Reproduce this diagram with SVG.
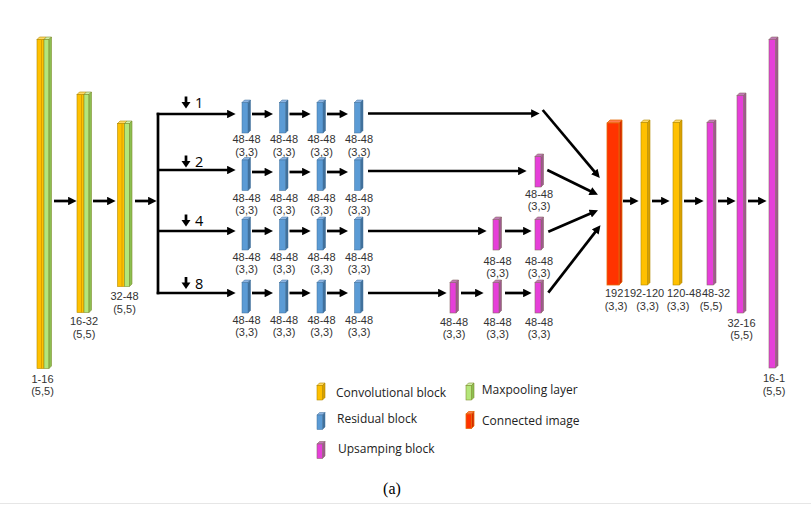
<svg xmlns="http://www.w3.org/2000/svg" width="811" height="505" viewBox="0 0 811 505">
<defs>
<marker id="ah" viewBox="0 0 10 10" refX="1" refY="5" markerWidth="9" markerHeight="8.5" markerUnits="userSpaceOnUse" orient="auto"><path d="M0,0 L10,5 L0,10 z" fill="#000"/></marker>
<style>
.ln{stroke:#000;stroke-width:2.7;fill:none}
.ar{stroke:#000;stroke-width:2.7;fill:none;marker-end:url(#ah)}
.lb{font-family:"Liberation Sans",Arial,sans-serif;font-size:11px;fill:#333;text-anchor:middle}
.lr{font-family:"Liberation Sans",Arial,sans-serif;font-size:11px;fill:#333}
.lg{font-family:"Open Sans","Noto Sans",sans-serif;font-size:12px;fill:#222}
.nm{font-family:"Open Sans","Noto Sans",sans-serif;font-size:14.5px;fill:#000}
.cap{font-family:"Liberation Serif",serif;font-size:16px;fill:#000;text-anchor:middle}
.bf{fill:#5B9BD5;stroke:#41719C;stroke-width:0.5}
.bs{fill:#41719C;stroke:#41719C;stroke-width:0.5}
.bt{fill:#8DB4E2;stroke:#41719C;stroke-width:0.5}
.pf{fill:#E63FD9;stroke:#8B6A6A;stroke-width:0.6}
.ps{fill:#9E5A8E;stroke:#8B6A6A;stroke-width:0.6}
.pt{fill:#C07AB6;stroke:#8B6A6A;stroke-width:0.6}
.yf{fill:#FFC000;stroke:#B38A00;stroke-width:0.6}
.ys{fill:#D9A000;stroke:#B38A00;stroke-width:0.6}
.yt{fill:#FFD966;stroke:#B38A00;stroke-width:0.6}
.gf{fill:#B4E67A;stroke:#7F8F30;stroke-width:0.6}
.gs{fill:#8CBF50;stroke:#7F8F30;stroke-width:0.6}
.gt{fill:#D0F0A8;stroke:#7F8F30;stroke-width:0.6}
.rf{fill:#FF3300;stroke:#E46C0A;stroke-width:0.8}
.rs{fill:#D42A00;stroke:#E46C0A;stroke-width:0.8}
.rt{fill:#FF7A50;stroke:#E46C0A;stroke-width:0.8}
</style>
<g id="res">
<polygon class="bt" points="0,2.5 2.5,0 8.5,0 6,2.5"/>
<polygon class="bs" points="6,2.5 8.5,0 8.5,30.5 6,33"/>
<rect class="bf" x="0" y="2.5" width="6" height="30.5"/>
</g>
<g id="up">
<polygon class="pt" points="0,2.5 2.5,0 8.5,0 6,2.5"/>
<polygon class="ps" points="6,2.5 8.5,0 8.5,30.5 6,33"/>
<rect class="pf" x="0" y="2.5" width="6" height="30.5"/>
</g>
</defs>
<rect width="811" height="505" fill="#fff"/>

<g id="connectors">
<line class="ar" x1="54" y1="201" x2="69" y2="201"/>
<line class="ar" x1="93" y1="201" x2="108" y2="201"/>
<line class="ar" x1="135" y1="201" x2="149" y2="201"/>
<line class="ln" x1="158" y1="112.7" x2="158" y2="294.3"/>
<line class="ar" x1="156.7" y1="114" x2="228" y2="114"/>
<line class="ar" x1="158" y1="170" x2="228" y2="170"/>
<line class="ar" x1="158" y1="231" x2="228" y2="231"/>
<line class="ar" x1="156.7" y1="293" x2="228" y2="293"/>
<g id="res-arrows">
<line class="ar" x1="252" y1="114" x2="265.5" y2="114"/><line class="ar" x1="289.5" y1="114" x2="303" y2="114"/><line class="ar" x1="327" y1="114" x2="340.5" y2="114"/>
<line class="ar" x1="252" y1="172" x2="265.5" y2="172"/><line class="ar" x1="289.5" y1="172" x2="303" y2="172"/><line class="ar" x1="327" y1="172" x2="340.5" y2="172"/>
<line class="ar" x1="252" y1="231" x2="265.5" y2="231"/><line class="ar" x1="289.5" y1="231" x2="303" y2="231"/><line class="ar" x1="327" y1="231" x2="340.5" y2="231"/>
<line class="ar" x1="252" y1="293" x2="265.5" y2="293"/><line class="ar" x1="289.5" y1="293" x2="303" y2="293"/><line class="ar" x1="327" y1="293" x2="340.5" y2="293"/>
</g>
<line class="ar" x1="368" y1="113.5" x2="532" y2="113.5"/>
<line class="ar" x1="368" y1="171" x2="519" y2="171"/>
<line class="ar" x1="368" y1="231" x2="479" y2="231"/>
<line class="ar" x1="368" y1="293" x2="439" y2="293"/>
<line class="ar" x1="505" y1="231" x2="524" y2="231"/>
<line class="ar" x1="461" y1="293" x2="476" y2="293"/>
<line class="ar" x1="505" y1="293" x2="524" y2="293"/>
<line class="ar" x1="542.7" y1="110" x2="594.9" y2="172.2"/>
<line class="ar" x1="547.3" y1="170" x2="591.1" y2="191.5"/>
<line class="ar" x1="548.3" y1="231.7" x2="591" y2="213.2"/>
<line class="ar" x1="548.3" y1="292.7" x2="595.8" y2="231.3"/>
<line class="ar" x1="623" y1="201" x2="631" y2="201"/>
<line class="ar" x1="652" y1="201" x2="662" y2="201"/>
<line class="ar" x1="684" y1="201" x2="696" y2="201"/>
<line class="ar" x1="718" y1="201" x2="728" y2="201"/>
<line class="ar" x1="748" y1="201" x2="759" y2="201"/>
</g>

<g id="scales">
<g><line class="ln" x1="186" y1="96.5" x2="186" y2="103"/><polygon points="181.5,102 190.5,102 186,108.5" fill="#000"/><text class="nm" x="195" y="108">1</text></g>
<g><line class="ln" x1="186" y1="155.5" x2="186" y2="162"/><polygon points="181.5,161 190.5,161 186,167.5" fill="#000"/><text class="nm" x="195" y="167">2</text></g>
<g><line class="ln" x1="186" y1="214.5" x2="186" y2="221"/><polygon points="181.5,220 190.5,220 186,226.5" fill="#000"/><text class="nm" x="195" y="226">4</text></g>
<g><line class="ln" x1="186" y1="277" x2="186" y2="283.5"/><polygon points="181.5,282.5 190.5,282.5 186,289" fill="#000"/><text class="nm" x="195" y="288.5">8</text></g>
</g>

<g id="enc1">
<polygon class="yt" points="37,39.5 39.5,37 46.5,37 44,39.5"/>
<polygon class="gt" points="44,39.5 46.5,37 51.5,37 49,39.5"/>
<rect class="yf" x="37" y="39.5" width="7" height="329"/>
<rect class="gf" x="44" y="39.5" width="5" height="329"/>
<polygon class="gs" points="49,39.5 51.5,37 51.5,366 49,368.5"/>
<line x1="41.5" y1="39.5" x2="41.5" y2="368.5" stroke="#D9A000" stroke-width="1"/>
<text class="lb" x="42.5" y="382.5">1-16</text><text class="lb" x="42.5" y="395">(5,5)</text>
</g>
<g id="enc2">
<polygon class="yt" points="77,94.5 79.5,92 86.5,92 84,94.5"/>
<polygon class="gt" points="84,94.5 86.5,92 91.5,92 89,94.5"/>
<rect class="yf" x="77" y="94.5" width="7" height="218"/>
<rect class="gf" x="84" y="94.5" width="5" height="218"/>
<polygon class="gs" points="89,94.5 91.5,92 91.5,310 89,312.5"/>
<line x1="81.5" y1="94.5" x2="81.5" y2="312.5" stroke="#D9A000" stroke-width="1"/>
<text class="lb" x="84" y="325">16-32</text><text class="lb" x="84" y="337.5">(5,5)</text>
</g>
<g id="enc3">
<polygon class="yt" points="117.5,123.5 120,121 127,121 124.5,123.5"/>
<polygon class="gt" points="124.5,123.5 127,121 132,121 129.5,123.5"/>
<rect class="yf" x="117.5" y="123.5" width="7" height="163"/>
<rect class="gf" x="124.5" y="123.5" width="5" height="163"/>
<polygon class="gs" points="129.5,123.5 132,121 132,284 129.5,286.5"/>
<line x1="122" y1="123.5" x2="122" y2="286.5" stroke="#D9A000" stroke-width="1"/>
<text class="lb" x="124.5" y="300">32-48</text><text class="lb" x="124.5" y="312.5">(5,5)</text>
</g>

<g id="res-row1">
<use href="#res" x="242" y="100"/><use href="#res" x="279.5" y="100"/><use href="#res" x="317" y="100"/><use href="#res" x="354.5" y="100"/>
<text class="lb" x="246.5" y="143">48-48</text><text class="lb" x="246.5" y="155.5">(3,3)</text>
<text class="lb" x="284" y="143">48-48</text><text class="lb" x="284" y="155.5">(3,3)</text>
<text class="lb" x="321.5" y="143">48-48</text><text class="lb" x="321.5" y="155.5">(3,3)</text>
<text class="lb" x="359" y="143">48-48</text><text class="lb" x="359" y="155.5">(3,3)</text>
</g>
<g id="res-row2">
<use href="#res" x="242" y="157.5"/><use href="#res" x="279.5" y="157.5"/><use href="#res" x="317" y="157.5"/><use href="#res" x="354.5" y="157.5"/>
<text class="lb" x="246.5" y="201.5">48-48</text><text class="lb" x="246.5" y="214">(3,3)</text>
<text class="lb" x="284" y="201.5">48-48</text><text class="lb" x="284" y="214">(3,3)</text>
<text class="lb" x="321.5" y="201.5">48-48</text><text class="lb" x="321.5" y="214">(3,3)</text>
<text class="lb" x="359" y="201.5">48-48</text><text class="lb" x="359" y="214">(3,3)</text>
</g>
<g id="res-row3">
<use href="#res" x="242" y="217"/><use href="#res" x="279.5" y="217"/><use href="#res" x="317" y="217"/><use href="#res" x="354.5" y="217"/>
<text class="lb" x="246.5" y="260.5">48-48</text><text class="lb" x="246.5" y="273">(3,3)</text>
<text class="lb" x="284" y="260.5">48-48</text><text class="lb" x="284" y="273">(3,3)</text>
<text class="lb" x="321.5" y="260.5">48-48</text><text class="lb" x="321.5" y="273">(3,3)</text>
<text class="lb" x="359" y="260.5">48-48</text><text class="lb" x="359" y="273">(3,3)</text>
</g>
<g id="res-row4">
<use href="#res" x="242" y="280"/><use href="#res" x="279.5" y="280"/><use href="#res" x="317" y="280"/><use href="#res" x="354.5" y="280"/>
<text class="lb" x="246.5" y="323.5">48-48</text><text class="lb" x="246.5" y="336">(3,3)</text>
<text class="lb" x="284" y="323.5">48-48</text><text class="lb" x="284" y="336">(3,3)</text>
<text class="lb" x="321.5" y="323.5">48-48</text><text class="lb" x="321.5" y="336">(3,3)</text>
<text class="lb" x="359" y="323.5">48-48</text><text class="lb" x="359" y="336">(3,3)</text>
</g>

<g id="up-row2">
<use href="#up" x="535" y="154"/>
<text class="lb" x="539" y="197.5">48-48</text><text class="lb" x="539" y="210">(3,3)</text>
</g>
<g id="up-row3">
<use href="#up" x="493" y="217"/><use href="#up" x="535" y="217"/>
<text class="lb" x="497.5" y="264.5">48-48</text><text class="lb" x="497.5" y="277">(3,3)</text>
<text class="lb" x="539" y="264.5">48-48</text><text class="lb" x="539" y="277">(3,3)</text>
</g>
<g id="up-row4">
<use href="#up" x="450" y="280"/><use href="#up" x="493" y="280"/><use href="#up" x="535" y="280"/>
<text class="lb" x="454" y="325.5">48-48</text><text class="lb" x="454" y="338">(3,3)</text>
<text class="lb" x="497.5" y="325.5">48-48</text><text class="lb" x="497.5" y="338">(3,3)</text>
<text class="lb" x="539" y="325.5">48-48</text><text class="lb" x="539" y="338">(3,3)</text>
</g>

<g id="concat">
<polygon class="rt" points="607,123 610,120 622,120 619,123"/>
<polygon class="rs" points="619,123 622,120 622,282 619,285"/>
<rect class="rf" x="607" y="123" width="12" height="162"/>
<text class="lr" x="605" y="297">192</text>
<text class="lb" x="616" y="310">(3,3)</text>
</g>
<g id="dec1">
<polygon class="yt" points="641,122.5 643.5,120 650,120 647.5,122.5"/>
<polygon class="ys" points="647.5,122.5 650,120 650,282.5 647.5,285"/>
<rect class="yf" x="641" y="122.5" width="6.5" height="162.5"/>
<text class="lr" x="623.8" y="297">192-120</text>
<text class="lb" x="647.5" y="310">(3,3)</text>
</g>
<g id="dec2">
<polygon class="yt" points="673,122.5 675.5,120 682,120 679.5,122.5"/>
<polygon class="ys" points="679.5,122.5 682,120 682,282.5 679.5,285"/>
<rect class="yf" x="673" y="122.5" width="6.5" height="162.5"/>
<text class="lr" x="667" y="297">120-48</text>
<text class="lb" x="678" y="310">(3,3)</text>
</g>
<g id="dec3">
<polygon class="pt" points="707,122.5 709.5,120 716,120 713.5,122.5"/>
<polygon class="ps" points="713.5,122.5 716,120 716,282.5 713.5,285"/>
<rect class="pf" x="707" y="122.5" width="6.5" height="162.5"/>
<text class="lr" x="702" y="297">48-32</text>
<text class="lb" x="711" y="310">(5,5)</text>
</g>
<g id="dec4">
<polygon class="pt" points="737,95.5 739.5,93 746,93 743.5,95.5"/>
<polygon class="ps" points="743.5,95.5 746,93 746,310.5 743.5,313"/>
<rect class="pf" x="737" y="95.5" width="6.5" height="217.5"/>
<text class="lb" x="741.5" y="326.5">32-16</text>
<text class="lb" x="741.5" y="339">(5,5)</text>
</g>
<g id="dec5">
<polygon class="pt" points="769,39.5 771.5,37 778,37 775.5,39.5"/>
<polygon class="ps" points="775.5,39.5 778,37 778,365.5 775.5,368"/>
<rect class="pf" x="769" y="39.5" width="6.5" height="328.5"/>
<text class="lb" x="774" y="382">16-1</text>
<text class="lb" x="774" y="394.5">(5,5)</text>
</g>

<g id="legend">
<g><polygon class="yt" points="317,385.5 319.5,383 325,383 322.5,385.5"/><polygon class="ys" points="322.5,385.5 325,383 325,397.5 322.5,400"/><rect class="yf" x="317" y="385.5" width="5.5" height="14.5"/><text class="lg" x="336" y="397">Convolutional block</text></g>
<g><polygon class="bt" points="317,415 319.5,412.5 325,412.5 322.5,415"/><polygon class="bs" points="322.5,415 325,412.5 325,427 322.5,429.5"/><rect class="bf" x="317" y="415" width="5.5" height="14.5"/><text class="lg" x="337" y="423.3">Residual block</text></g>
<g><polygon class="pt" points="317,444 319.5,441.5 325,441.5 322.5,444"/><polygon class="ps" points="322.5,444 325,441.5 325,456 322.5,458.5"/><rect class="pf" x="317" y="444" width="5.5" height="14.5"/><text class="lg" x="338" y="452.7">Upsamping block</text></g>
<g><polygon class="gt" points="466,385.5 468.5,383 474,383 471.5,385.5"/><polygon class="gs" points="471.5,385.5 474,383 474,397.5 471.5,400"/><rect class="gf" x="466" y="385.5" width="5.5" height="14.5"/><text class="lg" x="481.7" y="394">Maxpooling layer</text></g>
<g><polygon class="rt" points="466,414 468.5,411.5 474,411.5 471.5,414"/><polygon class="rs" points="471.5,414 474,411.5 474,426 471.5,428.5"/><rect class="rf" x="466" y="414" width="5.5" height="14.5"/><text class="lg" x="482" y="425">Connected image</text></g>
</g>
<text class="cap" x="392" y="494">(a)</text>
<line x1="0" y1="503.5" x2="811" y2="503.5" stroke="#e6e6e6" stroke-width="1"/>
</svg>
